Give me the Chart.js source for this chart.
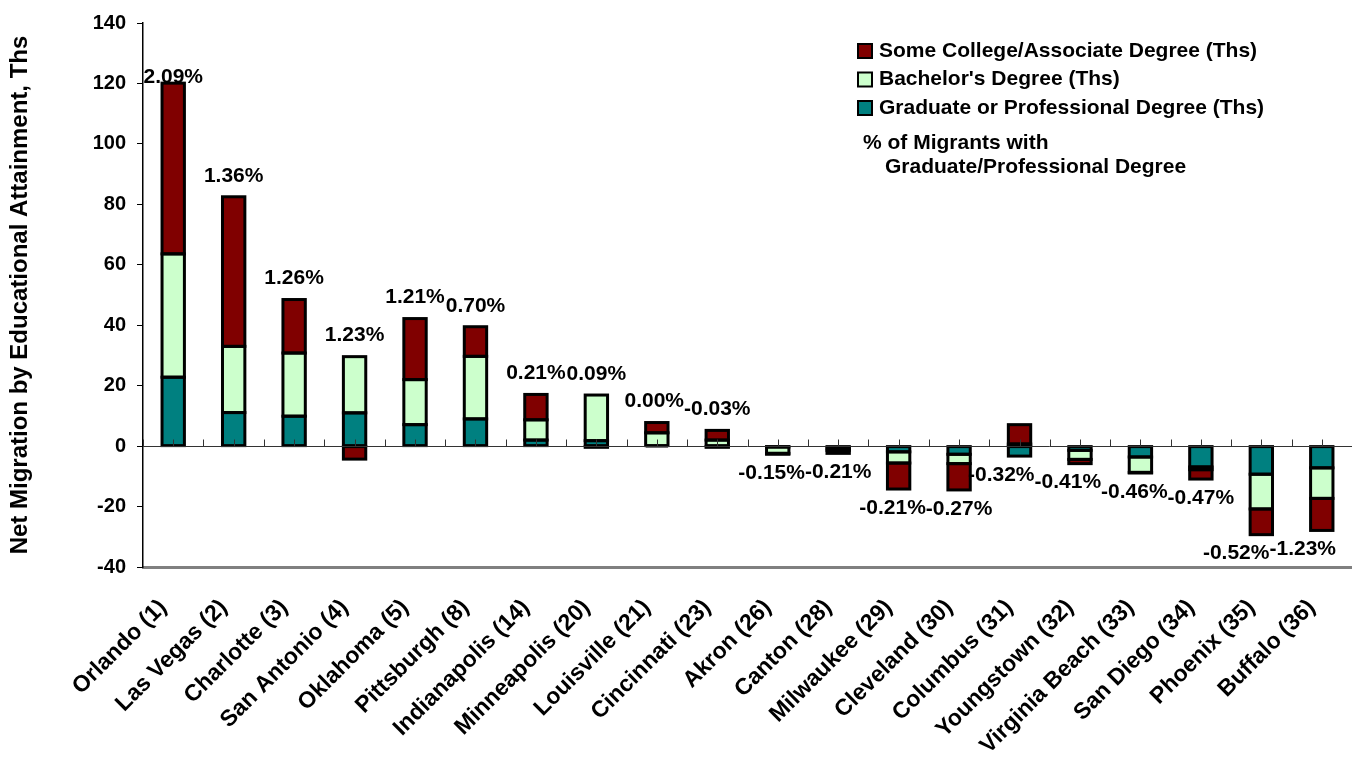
<!DOCTYPE html>
<html>
<head>
<meta charset="utf-8">
<script src="https://cdn.jsdelivr.net/npm/chart.js@4.4.1/dist/chart.umd.min.js"></script>
<style>
  body { margin: 0; background: #fff; }
  #wrap { width: 1352px; height: 757px; position: relative; }
</style>
</head>
<body>
<div id="wrap"><canvas id="myChart"></canvas></div>
<script>
// categories and series (thousands)
const cities = ['Orlando (1)', 'Las Vegas (2)', 'Charlotte (3)', 'San Antonio (4)', 'Oklahoma (5)',
    'Pittsburgh (8)', 'Indianapolis (14)', 'Minneapolis (20)', 'Louisville (21)', 'Cincinnati (23)',
    'Akron (26)', 'Canton (28)', 'Milwaukee (29)', 'Cleveland (30)', 'Columbus (31)',
    'Youngstown (32)', 'Virginia Beach (33)', 'San Diego (34)', 'Phoenix (35)', 'Buffalo (36)'];
const graduate = [22.8, 11.1, 9.9, 11.0, 7.1, 9.0, 2.0, 1.8, 0, -0.4,
    -0.3, -0.6, -1.9, -2.7, -3.3, -1.4, -3.6, -6.9, -9.3, -7.2];
const bachelor = [40.8, 21.9, 20.9, 18.6, 14.9, 20.7, 6.7, 15.1, 4.4, 2.0,
    -2.1, -0.8, -3.7, -3.1, 0.7, -3.0, -5.1, -0.9, -11.5, -10.1];
const someCollege = [56.5, 49.5, 17.7, -4.3, 20.2, 9.8, 8.4, -0.4, 3.4, 3.2,
    -0.3, -1.0, -8.6, -8.7, 6.4, -1.4, -0.2, -3.1, -8.5, -10.6];
// % of migrants with graduate/professional degree
const pctGrad = [2.09, 1.36, 1.26, 1.23, 1.21, 0.70, 0.21, 0.09, 0.00, -0.03,
    -0.15, -0.21, -0.21, -0.27, -0.32, -0.41, -0.46, -0.47, -0.52, -1.23];
const yTicks = { min: -40, max: 140, step: 20 };

const FONT = '"Liberation Sans", Arial, sans-serif';

// black outlines round every bar segment (shared edges, like Excel)
const barOutlines = {
    id: 'barOutlines',
    afterDatasetsDraw(chart) {
        const { ctx } = chart;
        ctx.save();
        ctx.strokeStyle = '#000';
        ctx.lineWidth = 3;
        chart.data.datasets.forEach((ds, d) => {
            chart.getDatasetMeta(d).data.forEach(bar => {
                const p = bar.getProps(['x', 'y', 'base', 'width'], true);
                const top = Math.min(p.y, p.base), h = Math.abs(p.base - p.y);
                ctx.strokeRect(p.x - p.width / 2, top, p.width, h);
            });
        });
        ctx.restore();
    }
};

// zero axis line with small tick marks
const zeroAxis = {
    id: 'zeroAxis',
    afterDatasetsDraw(chart) {
        const { ctx, chartArea, scales: { x, y } } = chart;
        const y0 = Math.round(y.getPixelForValue(0)) + 0.5;
        const step = (chartArea.right - chartArea.left) / cities.length;
        ctx.save();
        ctx.strokeStyle = '#333';
        ctx.lineWidth = 1;
        ctx.beginPath();
        ctx.moveTo(chartArea.left, y0);
        ctx.lineTo(chartArea.right, y0);
        for (let i = 0; i <= cities.length; i++) {
            const xb = Math.round(chartArea.left + i * step) + 0.5;
            ctx.moveTo(xb, y0);
            ctx.lineTo(xb, y0 - 7);
            if (i < cities.length) {
                const xc = Math.round(x.getPixelForValue(i)) + 0.5;
                ctx.moveTo(xc, y0);
                ctx.lineTo(xc, y0 - 7);
            }
        }
        ctx.stroke();
        ctx.restore();
    }
};

// percentage labels above / below each stack
const pctLabels = {
    id: 'pctLabels',
    afterDatasetsDraw(chart) {
        const { ctx, scales: { x, y } } = chart;
        ctx.save();
        ctx.font = 'bold 21px ' + FONT;
        ctx.fillStyle = '#000';
        ctx.textAlign = 'center';
        ctx.textBaseline = 'middle';
        const items = pctGrad.map((p, i) => {
            let pos = 0, neg = 0;
            [graduate, bachelor, someCollege].forEach(s => {
                if (s[i] >= 0) pos += s[i]; else neg += s[i];
            });
            let yy = p > -0.05 ? y.getPixelForValue(pos) - 21 : y.getPixelForValue(neg) + 19;
            yy = Math.max(yy, chart.chartArea.top + 54);
            const txt = p.toFixed(2) + '%';
            const w = ctx.measureText(txt).width;
            const xx = Math.min(x.getPixelForValue(i), chart.width - w / 2 - 16);
            return { txt, x: xx, y: yy, w };
        });
        // push labels left when they run into the next one
        for (let i = items.length - 2; i >= 0; i--) {
            const a = items[i], b = items[i + 1];
            if (Math.abs(a.y - b.y) < 20) {
                const limit = b.x - b.w / 2;
                if (a.x + a.w / 2 > limit) a.x = limit - a.w / 2;
            }
        }
        items.forEach(it => ctx.fillText(it.txt, it.x, it.y));
        ctx.restore();
    }
};

// legend box in the upper right
const sideLegend = {
    id: 'sideLegend',
    afterDraw(chart) {
        const { ctx } = chart;
        const sets = chart.data.datasets.slice().reverse();
        const lx = 858, ly = 51, gap = 28.5;
        ctx.save();
        ctx.font = 'bold 21px ' + FONT;
        ctx.textBaseline = 'middle';
        ctx.textAlign = 'left';
        sets.forEach((ds, k) => {
            const cy = ly + k * gap;
            ctx.fillStyle = ds.backgroundColor;
            ctx.fillRect(lx, cy - 7, 14, 14);
            ctx.strokeStyle = '#000';
            ctx.lineWidth = 2;
            ctx.strokeRect(lx, cy - 7, 14, 14);
            ctx.fillStyle = '#000';
            ctx.fillText(ds.label, lx + 21, cy);
        });
        ctx.fillText('% of Migrants with', 863, 143);
        ctx.fillText('Graduate/Professional Degree', 885, 167);
        ctx.restore();
    }
};

const barStyle = {
    borderWidth: 0,
    barPercentage: 0.37,
    categoryPercentage: 1.0
};

const chartData = {
    labels: cities,
    datasets: [
        Object.assign({ label: 'Graduate or Professional Degree (Ths)', data: graduate, backgroundColor: '#008080' }, barStyle),
        Object.assign({ label: "Bachelor's Degree (Ths)", data: bachelor, backgroundColor: '#CCFFCC' }, barStyle),
        Object.assign({ label: 'Some College/Associate Degree (Ths)', data: someCollege, backgroundColor: '#800000' }, barStyle)
    ]
};

const config = {
    type: 'bar',
    data: chartData,
    options: {
        responsive: true,
        maintainAspectRatio: false,
        animation: false,
        layout: { padding: { top: 8, right: 0, left: 0, bottom: 0 } },
        plugins: {
            legend: { display: false },
            tooltip: { enabled: false }
        },
        scales: {
            x: {
                stacked: true,
                grid: { display: true, drawOnChartArea: false, drawTicks: false, color: 'rgba(0,0,0,0)' },
                border: { display: true, color: '#808080', width: 3 },
                ticks: {
                    autoSkip: false,
                    minRotation: 45,
                    maxRotation: 45,
                    padding: 27,
                    labelOffset: -10,
                    color: '#000',
                    font: { family: FONT, size: 23, weight: 'bold' }
                },
                afterFit(scale) {
                    scale.height = 190;
                    scale.paddingRight = 0;
                }
            },
            y: {
                stacked: true,
                min: yTicks.min,
                max: yTicks.max,
                grid: { drawOnChartArea: false, drawTicks: true, tickLength: 6, color: '#000' },
                border: { display: true, color: '#000', width: 1.5 },
                ticks: {
                    stepSize: yTicks.step,
                    padding: 11,
                    color: '#000',
                    font: { family: FONT, size: 20, weight: 'bold' }
                },
                title: {
                    display: true,
                    text: 'Net Migration by Educational Attainment, Ths',
                    color: '#000',
                    font: { family: FONT, size: 24, weight: 'bold' },
                    padding: { top: 6, bottom: 0 }
                },
                afterFit(scale) { scale.width = 143; }
            }
        }
    },
    plugins: [barOutlines, zeroAxis, pctLabels, sideLegend]
};

const ctx = document.getElementById('myChart').getContext('2d');
new Chart(ctx, config);
</script>
</body>
</html>
